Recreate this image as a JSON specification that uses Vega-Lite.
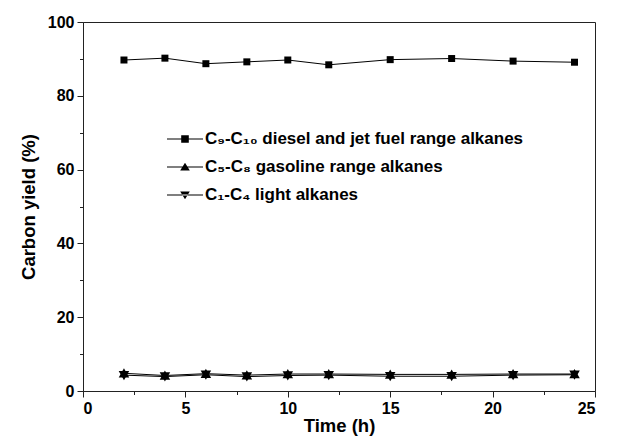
{
  "$schema": "https://vega.github.io/schema/vega-lite/v6.json",
  "width": 512,
  "height": 369,
  "autosize": {"type": "none"},
  "padding": {"left": 83, "top": 22, "right": 27, "bottom": 53},
  "background": "white",
  "config": {
    "font": "Liberation Sans",
    "view": {"stroke": "#222", "strokeWidth": 1},
    "axis": {"domainColor": "#222", "tickColor": "#222", "labelColor": "black", "titleColor": "black", "labelFont": "Liberation Sans", "titleFont": "Liberation Sans", "labelFontWeight": "bold", "titleFontWeight": "bold", "labelFontSize": 16, "titleFontSize": 18.5, "grid": false}
  },
  "data": {
    "values": [
      {"t": 2, "s": "C₉-C₁₀ diesel and jet fuel range alkanes", "y": 89.7},
      {"t": 4, "s": "C₉-C₁₀ diesel and jet fuel range alkanes", "y": 90.2},
      {"t": 6, "s": "C₉-C₁₀ diesel and jet fuel range alkanes", "y": 88.7},
      {"t": 8, "s": "C₉-C₁₀ diesel and jet fuel range alkanes", "y": 89.2},
      {"t": 10, "s": "C₉-C₁₀ diesel and jet fuel range alkanes", "y": 89.7},
      {"t": 12, "s": "C₉-C₁₀ diesel and jet fuel range alkanes", "y": 88.4},
      {"t": 15, "s": "C₉-C₁₀ diesel and jet fuel range alkanes", "y": 89.8},
      {"t": 18, "s": "C₉-C₁₀ diesel and jet fuel range alkanes", "y": 90.1},
      {"t": 21, "s": "C₉-C₁₀ diesel and jet fuel range alkanes", "y": 89.4},
      {"t": 24, "s": "C₉-C₁₀ diesel and jet fuel range alkanes", "y": 89.1},
      {"t": 2, "s": "C₅-C₈ gasoline range alkanes", "y": 4.8},
      {"t": 4, "s": "C₅-C₈ gasoline range alkanes", "y": 4.2},
      {"t": 6, "s": "C₅-C₈ gasoline range alkanes", "y": 4.7},
      {"t": 8, "s": "C₅-C₈ gasoline range alkanes", "y": 4.3},
      {"t": 10, "s": "C₅-C₈ gasoline range alkanes", "y": 4.6},
      {"t": 12, "s": "C₅-C₈ gasoline range alkanes", "y": 4.6},
      {"t": 15, "s": "C₅-C₈ gasoline range alkanes", "y": 4.5},
      {"t": 18, "s": "C₅-C₈ gasoline range alkanes", "y": 4.5},
      {"t": 21, "s": "C₅-C₈ gasoline range alkanes", "y": 4.6},
      {"t": 24, "s": "C₅-C₈ gasoline range alkanes", "y": 4.6},
      {"t": 2, "s": "C₁-C₄ light alkanes", "y": 4.3},
      {"t": 4, "s": "C₁-C₄ light alkanes", "y": 3.9},
      {"t": 6, "s": "C₁-C₄ light alkanes", "y": 4.4},
      {"t": 8, "s": "C₁-C₄ light alkanes", "y": 3.9},
      {"t": 10, "s": "C₁-C₄ light alkanes", "y": 4.2},
      {"t": 12, "s": "C₁-C₄ light alkanes", "y": 4.3},
      {"t": 15, "s": "C₁-C₄ light alkanes", "y": 4.0},
      {"t": 18, "s": "C₁-C₄ light alkanes", "y": 4.0},
      {"t": 21, "s": "C₁-C₄ light alkanes", "y": 4.3},
      {"t": 24, "s": "C₁-C₄ light alkanes", "y": 4.4}
    ]
  },
  "encoding": {
    "x": {
      "field": "t", "type": "quantitative",
      "scale": {"domain": [0, 25], "nice": false},
      "axis": {
        "title": "Time (h)",
        "values": [0, 2.5, 5, 7.5, 10, 12.5, 15, 17.5, 20, 22.5, 25],
        "labelExpr": "datum.value % 5 === 0 ? datum.label : ''",
        "tickSize": {"condition": {"test": "datum.value % 5 !== 0", "value": 3.5}, "value": 6},
        "labelPadding": 3,
        "titlePadding": 0
      }
    },
    "y": {
      "field": "y", "type": "quantitative",
      "scale": {"domain": [0, 100], "nice": false},
      "axis": {
        "title": "Carbon yield (%)",
        "values": [0, 10, 20, 30, 40, 50, 60, 70, 80, 90, 100],
        "labelExpr": "datum.value % 20 === 0 ? datum.label : ''",
        "tickSize": {"condition": {"test": "datum.value % 20 !== 0", "value": 3.5}, "value": 6},
        "labelPadding": 3,
        "titlePadding": 9
      }
    }
  },
  "layer": [
    {
      "mark": {"type": "line", "color": "black", "strokeWidth": 1},
      "encoding": {"detail": {"field": "s"}}
    },
    {
      "mark": {"type": "point", "filled": true, "color": "black", "opacity": 1, "size": 100},
      "encoding": {
        "shape": {
          "field": "s", "type": "nominal",
          "scale": {
            "domain": ["C₉-C₁₀ diesel and jet fuel range alkanes", "C₅-C₈ gasoline range alkanes", "C₁-C₄ light alkanes"],
            "range": [
              "M-0.7,-0.7H0.7V0.7H-0.7Z",
              "M0,-1L1.05,0.85L-1.05,0.85Z",
              "M0,1L1.05,-0.85L-1.05,-0.85Z"
            ]
          },
          "legend": null
        }
      }
    },
    {
      "transform": [{"filter": "false"}],
      "mark": {"type": "point", "filled": true, "color": "black", "opacity": 1},
      "encoding": {
        "shape": {
          "field": "s", "type": "nominal",
          "scale": {
            "domain": ["C₉-C₁₀ diesel and jet fuel range alkanes", "C₅-C₈ gasoline range alkanes", "C₁-C₄ light alkanes"],
            "range": [
              "M-1.8,-0.05H1.8V0.05H-1.8ZM-0.38,-0.38H0.38V0.38H-0.38Z",
              "M-1.8,-0.05H1.8V0.05H-1.8ZM0,-0.42L0.48,0.36L-0.48,0.36Z",
              "M-1.8,-0.05H1.8V0.05H-1.8ZM0,0.42L0.48,-0.36L-0.48,-0.36Z"
            ]
          },
          "legend": {
            "title": null,
            "orient": "none",
            "legendX": 92,
            "legendY": 107,
            "padding": 0,
            "symbolSize": 400,
            "symbolFillColor": "black",
            "symbolStrokeWidth": 0,
            "symbolOpacity": 1,
            "rowPadding": 10,
            "labelOffset": 10,
            "labelFont": "Liberation Sans",
            "labelFontWeight": "bold",
            "labelFontSize": 17,
            "labelColor": "black",
            "labelLimit": 400
          }
        }
      }
    }
  ],
  "resolve": {"scale": {"shape": "independent"}, "legend": {"shape": "independent"}}
}
